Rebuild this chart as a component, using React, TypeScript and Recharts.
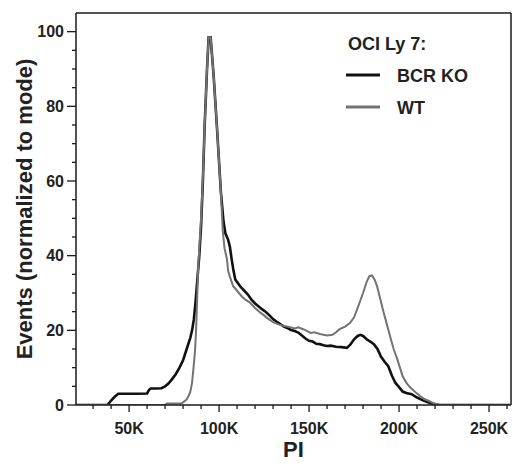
import React from 'react';
import {
  LineChart, Line, XAxis, YAxis, Legend, ReferenceLine
} from 'recharts';

// PI signal in thousands, events normalized to mode (%)
const koCurve: [number, number][] = [
  [20, 0], [38, 0], [40, 1.2], [42, 2.2], [44, 3], [50, 3], [55, 3], [60, 3.1], [61, 4],
  [62, 4.4], [65, 4.4], [68, 4.5], [70, 5], [72, 5.8], [74, 7], [76, 8.3], [78, 10],
  [80, 12], [82, 15], [84, 18], [85, 20], [86, 23], [87, 28], [88, 34], [89, 40],
  [90, 48], [91, 60], [92, 75], [93.3, 90], [94.2, 98.5], [95.3, 98.5], [97, 88],
  [99, 73], [101, 57], [102.5, 49], [103.5, 46], [105, 44.3], [106, 42.4], [107, 39],
  [108, 36], [109, 33.6], [110.5, 32.6], [112, 31.6], [114, 30.6], [116, 29.6],
  [118, 28.2], [120, 27.2], [122, 26.4], [124, 25.6], [126, 24.9], [128, 24],
  [130, 23], [132, 22.3], [134, 21.7], [136, 21], [138, 20.6], [140, 20.1],
  [142, 19.8], [144, 19.4], [146, 18.6], [148, 17.8], [150, 17.2], [152, 17],
  [154, 16.4], [156, 16.3], [158, 16], [160, 15.8], [162, 15.9], [165, 15.6],
  [168, 15.5], [171, 15.3], [173, 16.2], [175, 17.6], [177, 18.5], [178.5, 18.8],
  [180, 18.5], [182, 17.6], [184, 17], [186, 16.3], [188, 15], [190, 12.9],
  [192, 11.6], [194, 10.4], [196, 7.9], [198, 5.9], [200, 4.8], [202, 3.6],
  [204, 3.2], [207, 2.9], [210, 2], [213, 1.3], [216, 0.7], [219, 0.3], [222, 0],
  [240, 0], [262, 0]
];

const wtCurve: [number, number][] = [
  [20, 0], [70, 0], [71, 0.4], [79, 0.4], [80, 0.7], [82, 1.5], [83, 2.4], [84, 3.5],
  [85, 6], [86, 11], [86.7, 15], [87.3, 21], [87.8, 28], [88.3, 36], [89, 42],
  [90, 50], [91, 61], [92, 75], [93.3, 90], [94.2, 98.5], [95.3, 98.5], [97, 88],
  [99, 73], [101, 57], [102, 47], [103, 42], [104.4, 39], [105, 36], [106, 34.4],
  [107.8, 31.8], [109, 31.2], [111, 30], [112.8, 29], [114.4, 28.3], [117, 27.5],
  [120, 26], [122.8, 24.8], [125, 24], [127, 23.2], [130, 22.2], [133, 21.6],
  [135, 21.3], [137.8, 21], [140, 20.8], [142, 20.5], [144, 20.8], [146.7, 20.3],
  [149, 19.8], [151, 19.3], [153, 19.5], [156, 19], [158, 18.8], [160, 18.6],
  [163, 18.8], [165, 19.5], [167, 20.3], [170, 21], [172.8, 22], [175, 23.5],
  [176.7, 25.6], [178.5, 28], [180, 30], [182, 33], [183.5, 34.5], [185, 34.7],
  [186.5, 33.5], [187.8, 31.8], [189.5, 28.5], [191, 25.6], [193, 22], [195, 18.4],
  [197, 15], [199, 12.3], [200.5, 10], [202, 7.7], [204, 6], [206, 4.8], [209, 3.5],
  [211.7, 2.4], [214, 1.6], [217, 1], [219, 0.5], [221, 0.2], [223, 0], [262, 0]
];

const xTicks = [30, 40, 50, 60, 70, 80, 90, 100, 110, 120, 130, 140, 150, 160, 170, 180,
  190, 200, 210, 220, 230, 240, 250, 260];
const xMajor = [50, 100, 150, 200, 250];
const yTicks = [0, 5, 10, 15, 20, 25, 30, 35, 40, 45, 50, 55, 60, 65, 70, 75, 80, 85, 90, 95, 100];
const yMajor = [0, 20, 40, 60, 80, 100];

const legendTitle = 'OCI Ly 7:';
const seriesNames = ['BCR KO', 'WT'];

const FONT = '"Liberation Sans", Arial, sans-serif';
const AXIS = '#1a1a1a';

const toPoints = (c: [number, number][]) => c.map(([pi, ev]) => ({ pi, ev }));

const XTick = (props: any) => {
  const { x, y, payload } = props;
  const major = xMajor.includes(payload.value);
  return (
    <g>
      <line x1={x} y1={y} x2={x} y2={y + (major ? 7 : 4)} stroke={AXIS} strokeWidth={1.3} />
      {major && (
        <text x={x} y={y + 29} textAnchor="middle" fontFamily={FONT} fontWeight="bold"
          fontSize={16} fill="#222">{`${payload.value}K`}</text>
      )}
    </g>
  );
};

const YTick = (props: any) => {
  const { x, y, payload } = props;
  const major = yMajor.includes(payload.value);
  return (
    <g>
      <line x1={x} y1={y} x2={x - (major ? 9 : 4)} y2={y} stroke={AXIS} strokeWidth={1.3} />
      {major && (
        <text x={x - 12} y={y + 5.5} textAnchor="end" fontFamily={FONT} fontWeight="bold"
          fontSize={16} fill="#222">{payload.value}</text>
      )}
    </g>
  );
};

const LegendBox = (props: any) => {
  const items = props.payload || [];
  return (
    <svg width={170} height={95}>
      <text x={8} y={25} fontFamily={FONT} fontWeight="bold" fontSize={18} fill="#222">
        {legendTitle}
      </text>
      {items.map((it: any, i: number) => (
        <g key={it.value}>
          <line x1={6} x2={40} y1={50 + i * 32} y2={50 + i * 32} stroke={it.color} strokeWidth={3} />
          <text x={57} y={57 + i * 32} fontFamily={FONT} fontWeight="bold" fontSize={18} fill="#222">
            {it.value}
          </text>
        </g>
      ))}
    </svg>
  );
};

export default function App() {
  return (
    <div style={{ position: 'absolute', left: 0, top: 0, width: 520, height: 469, background: '#fff' }}>
      <LineChart width={520} height={469} margin={{ top: 13, right: 9, left: 0, bottom: 0 }}>
        <XAxis
          dataKey="pi" type="number" domain={[20.5, 262.2]} ticks={xTicks}
          allowDataOverflow interval={0} tick={<XTick />} tickLine={false} tickSize={0} tickMargin={0}
          axisLine={{ stroke: AXIS, strokeWidth: 1.5 }} height={64}
          label={{
            content: ({ viewBox }: any) => (
              <text x={viewBox.x + viewBox.width / 2} y={viewBox.y + 52} textAnchor="middle"
                fontFamily={FONT} fontWeight="bold" fontSize={22} fill="#222">PI</text>
            )
          }}
        />
        <YAxis
          dataKey="ev" type="number" domain={[0, 105]} ticks={yTicks} allowDataOverflow interval={0}
          tick={<YTick />} tickLine={false} tickSize={0} tickMargin={0}
          axisLine={{ stroke: AXIS, strokeWidth: 1.5 }} width={76}
          label={{
            content: ({ viewBox }: any) => {
              const cx = viewBox.x + 24;
              const cy = viewBox.y + viewBox.height / 2;
              return (
                <text x={cx} y={cy} transform={`rotate(-90 ${cx} ${cy})`} textAnchor="middle"
                  dominantBaseline="central" fontFamily={FONT} fontWeight="bold" fontSize={22} fill="#222">
                  Events (normalized to mode)
                </text>
              );
            }
          }}
        />
        <ReferenceLine y={105} stroke={AXIS} strokeWidth={1.5} />
        <ReferenceLine x={262.2} stroke={AXIS} strokeWidth={1.5} />
        <Legend
          verticalAlign="middle" align="center" layout="vertical"
          wrapperStyle={{ top: 25, left: 340, width: 170 }}
          content={<LegendBox />}
        />
        <Line data={toPoints(koCurve)} dataKey="ev" name={seriesNames[0]} type="linear"
          stroke="#111" strokeWidth={2.6} dot={false} isAnimationActive={false} />
        <Line data={toPoints(wtCurve)} dataKey="ev" name={seriesNames[1]} type="linear"
          stroke="#737373" strokeWidth={2} dot={false} isAnimationActive={false} />
      </LineChart>
    </div>
  );
}
